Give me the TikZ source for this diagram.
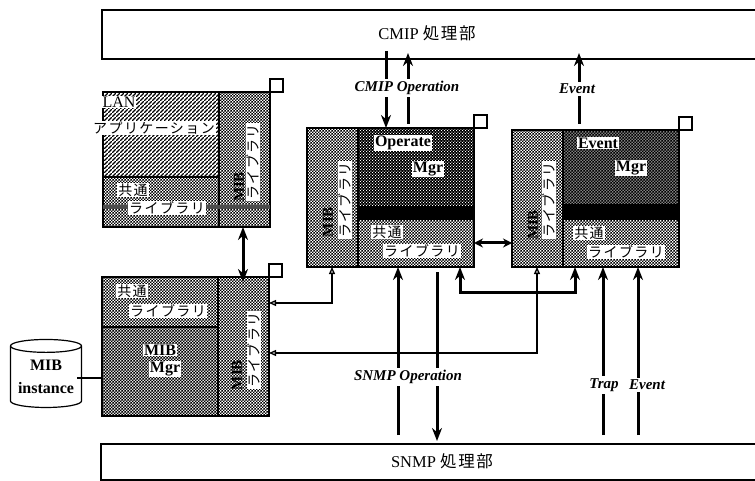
\documentclass[tikz,border=0pt]{standalone}
\usepackage{fontspec}
\setmainfont{Liberation Serif}
\newfontfamily\jpfont[LetterSpace=10]{Noto Sans CJK JP}
\usetikzlibrary{positioning,patterns,arrows.meta,shapes.geometric}

\pgfdeclarepatternformonly{checkdots}{\pgfqpoint{0pt}{0pt}}{\pgfqpoint{3.4pt}{3.4pt}}{\pgfqpoint{3.4pt}{3.4pt}}{%
  \pgfpathrectangle{\pgfqpoint{0pt}{0pt}}{\pgfqpoint{1.7pt}{1.7pt}}%
  \pgfpathrectangle{\pgfqpoint{1.7pt}{1.7pt}}{\pgfqpoint{1.7pt}{1.7pt}}%
  \pgfusepath{fill}}
\pgfdeclarepatternformonly{finedots}{\pgfqpoint{0pt}{0pt}}{\pgfqpoint{3.4pt}{3.4pt}}{\pgfqpoint{3.4pt}{3.4pt}}{%
  \pgfpathrectangle{\pgfqpoint{0pt}{0pt}}{\pgfqpoint{1pt}{1pt}}%
  \pgfpathrectangle{\pgfqpoint{1.7pt}{1.7pt}}{\pgfqpoint{1pt}{1pt}}%
  \pgfusepath{fill}}
\pgfdeclarepatternformonly{slashes}{\pgfqpoint{0pt}{0pt}}{\pgfqpoint{4pt}{4pt}}{\pgfqpoint{4pt}{4pt}}{%
  \pgfsetlinewidth{1.6pt}%
  \pgfpathmoveto{\pgfqpoint{-1pt}{-1pt}}%
  \pgfpathlineto{\pgfqpoint{5pt}{5pt}}%
  \pgfusepath{stroke}}

\newcommand{\jp}[1]{{\jpfont #1}}

\begin{document}
\begin{tikzpicture}[%
    x=1pt,
    y=-1pt,
    >={Stealth[length=13pt,width=10pt]},
    every node/.style={inner sep=0pt,outer sep=0pt},
    cell/.style={draw,line width=1.5pt},
    maincell/.style={cell,minimum width=116pt},
    colcell/.style={cell,minimum width=51pt},
    libfill/.style={pattern=checkdots,pattern color=black},
    mibfill/.style={preaction={fill=black!12},pattern=checkdots,pattern color=black},
    opfill/.style={preaction={fill=black},pattern=finedots,pattern color=white},
    evfill/.style={preaction={fill=black!50},pattern=checkdots,pattern color=black},
    lanfill/.style={pattern=slashes,pattern color=black},
    corner/.style={draw,line width=1.2pt,fill=white,minimum size=13pt},
    procbox/.style={draw,line width=1.2pt,minimum width=665pt,anchor=north west},
    bigtext/.style={font=\fontsize{16.5}{18}\selectfont},
    boldtext/.style={fill=white,inner sep=1pt,font=\fontsize{16}{18}\selectfont\bfseries},
    libtext/.style={fill=white,inner sep=1pt,font=\fontsize{14}{16}\selectfont},
    miblabel/.style={rotate=90,font=\fontsize{15}{17}\selectfont\bfseries},
    liblabel/.style={rotate=90,fill=white,inner sep=1pt,font=\fontsize{14}{16}\selectfont},
    linktext/.style={fill=white,inner ysep=2pt,inner xsep=0pt,font=\fontsize{15}{17}\selectfont\bfseries\itshape},
    bigarrow/.style={line width=3pt},
    thinarrow/.style={line width=1.3pt,-{Triangle[open,length=7pt,width=6pt,fill=white]}}
  ]
    \useasboundingbox (0,0) rectangle (755,481);

    % processing boxes
    \node[procbox,minimum height=49pt] (cmip) at (102,10) {};
    \node[procbox,minimum height=36pt] (snmp) at (101,444) {};
    \node[bigtext] (cmiptext) at (427,33) {CMIP \jp{処理部}};
    \node[bigtext] (snmptext) at (442,461) {SNMP \jp{処理部}};

    % LAN block
    \node[maincell,lanfill,minimum height=85pt,anchor=north west] (lanapp) at (103,92) {};
    \node[maincell,libfill,minimum height=50pt] (lanlib) [below=0pt of lanapp] {};
    \node[colcell,libfill,minimum height=135pt] (lanmib) [below right=0pt and 0pt of lanapp.north east] {};
    \node[corner] (lansq) [above right=0pt and 0pt of lanmib.north east] {};
    \node[fill=black!70,minimum width=167pt,minimum height=4pt] (lanband) [below right=28pt and 0pt of lanlib.north west] {};

    % MIB block
    \node[maincell,libfill,minimum height=50pt,anchor=north west] (miblib) at (102,277) {};
    \node[maincell,mibfill,minimum height=89pt] (mibmgr) [below=0pt of miblib] {};
    \node[colcell,libfill,minimum height=139pt] (mibcol) [below right=0pt and 0pt of miblib.north east] {};
    \node[corner] (mibsq) [above right=0pt and 0pt of mibcol.north east] {};

    % Operate block
    \node[colcell,libfill,minimum height=139pt,anchor=north west] (opcol) at (307,128) {};
    \node[maincell,opfill,minimum height=79pt] (opmgr) [below right=0pt and 0pt of opcol.north east] {};
    \node[maincell,fill=black,minimum height=12pt] (opband) [below=0pt of opmgr] {};
    \node[maincell,libfill,minimum height=48pt] (oplib) [below=0pt of opband] {};
    \node[corner] (opsq) [above right=0pt and 0pt of opmgr.north east] {};

    % Event block
    \node[colcell,libfill,minimum height=137pt,anchor=north west] (evcol) at (512,130) {};
    \node[maincell,evfill,minimum height=75pt] (evmgr) [below right=0pt and 0pt of evcol.north east] {};
    \node[maincell,fill=black,minimum height=14pt] (evband) [below=0pt of evmgr] {};
    \node[maincell,libfill,minimum height=48pt] (evlib) [below=0pt of evband] {};
    \node[corner] (evsq) [above right=0pt and 0pt of evmgr.north east] {};

    % database
    \node[cylinder,shape border rotate=90,aspect=0.23,draw,line width=1.2pt,minimum width=71pt,minimum height=68pt,
          align=center,font=\fontsize{16}{23}\selectfont\bfseries] (mibdb) at (46,377) {MIB\\instance};

    % columns the connectors run on
    \coordinate (cmipdown) at (386,0);
    \coordinate (cmipup) at (408,0);
    \coordinate (eventup) at (579,0);
    \coordinate (laneast) at (243,0);
    \coordinate (opin) at (398,0);
    \coordinate (opout) at (437,0);
    \coordinate (trapup) at (603,0);
    \coordinate (eventin) at (638,0);
    \coordinate (oplink) at (460,292);
    \coordinate (evlink) at (575,292);
    \coordinate (mibup) at (332,303);
    \coordinate (mibin) at (537,353);
    \coordinate (dbstub) at (77,378);
    \coordinate (lanrow) at (0,243);

    \draw[bigarrow,->,shorten <=-8pt] (cmip.south -| cmipdown) -- (opmgr.north -| cmipdown);
    \draw[bigarrow,->,shorten <=4pt,shorten >=-6pt] (opmgr.north -| cmipup) -- (cmip.south -| cmipup);
    \draw[bigarrow,->,shorten <=6pt,shorten >=-6pt] (evmgr.north -| eventup) -- (cmip.south -| eventup);
    \draw[bigarrow,<->,shorten >=-5pt] (lanmib.south -| laneast) -- (mibcol.north -| laneast);
    \draw[bigarrow,<->,>={Stealth[length=9pt,width=9pt]}] (oplib.east |- lanrow) -- (evcol.west |- lanrow);
    \draw[bigarrow,<->] (oplib.south -| oplink) -- (oplink) -- (evlink) -- (evlib.south -| evlink);
    \draw[bigarrow,->,shorten <=9pt] (snmp.north -| opin) -- (oplib.south -| opin);
    \draw[bigarrow,->,shorten <=5pt,shorten >=3pt] (oplib.south -| opout) -- (snmp.north -| opout);
    \draw[bigarrow,->,shorten <=9pt] (snmp.north -| trapup) -- (evlib.south -| trapup);
    \draw[bigarrow,->,shorten <=9pt] (snmp.north -| eventin) -- (evlib.south -| eventin);
    \draw[thinarrow,{Triangle[open,length=7pt,width=6pt,fill=white]}-{Triangle[open,length=7pt,width=6pt,fill=white]}] (opcol.south -| mibup) -- (mibup) -- (mibcol.east |- mibup);
    \draw[thinarrow,{Triangle[open,length=7pt,width=6pt,fill=white]}-{Triangle[open,length=7pt,width=6pt,fill=white]}] (evcol.south -| mibin) -- (mibin) -- (mibcol.east |- mibin);
    \draw[line width=1.2pt] (mibmgr.west |- dbstub) -- (dbstub);

    % texts inside the blocks
    \node[libtext,font=\fontsize{16}{18}\selectfont] (lantext) at ([shift={(16,10)}]lanapp.north west) {LAN};
    \node[libtext] (apptext) at ([shift={(51,36)}]lanapp.north west) {\jp{アプリケーション}};
    \node[libtext] (lancommon) at ([shift={(30,13)}]lanlib.north west) {\jp{共通}};
    \node[libtext] (lanlibtext) at ([shift={(64,31)}]lanlib.north west) {\jp{ライブラリ}};
    \node[miblabel] (lanmibtext) at ([shift={(20,95)}]lanmib.north west) {MIB};
    \node[liblabel] (lancoltext) at ([shift={(34,70)}]lanmib.north west) {\jp{ライブラリ}};

    \node[libtext] (mibcommon) at ([shift={(30,14)}]miblib.north west) {\jp{共通}};
    \node[libtext] (miblibtext) at ([shift={(66,34)}]miblib.north west) {\jp{ライブラリ}};
    \node[boldtext] (mibtext) at ([shift={(58,23)}]mibmgr.north west) {MIB};
    \node[boldtext] (mgrtext) at ([shift={(63,42)}]mibmgr.north west) {Mgr};
    \node[miblabel] (mibmibtext) at ([shift={(19,98)}]mibcol.north west) {MIB};
    \node[liblabel] (mibcoltext) at ([shift={(36,73)}]mibcol.north west) {\jp{ライブラリ}};

    \node[boldtext] (optext) at ([shift={(45,15)}]opmgr.north west) {Operate};
    \node[boldtext] (opmgrtext) at ([shift={(70,41)}]opmgr.north west) {Mgr};
    \node[libtext] (opcommon) at ([shift={(29,13)}]oplib.north west) {\jp{共通}};
    \node[libtext] (oplibtext) at ([shift={(64,32)}]oplib.north west) {\jp{ライブラリ}};
    \node[miblabel] (opmibtext) at ([shift={(21,94)}]opcol.north west) {MIB};
    \node[liblabel] (opcoltext) at ([shift={(38,72)}]opcol.north west) {\jp{ライブラリ}};

    \node[boldtext] (evtext) at ([shift={(35,13)}]evmgr.north west) {Event};
    \node[boldtext] (evmgrtext) at ([shift={(68,38)}]evmgr.north west) {Mgr};
    \node[libtext] (evcommon) at ([shift={(26,14)}]evlib.north west) {\jp{共通}};
    \node[libtext] (evlibtext) at ([shift={(63,33)}]evlib.north west) {\jp{ライブラリ}};
    \node[miblabel] (evmibtext) at ([shift={(21,95)}]evcol.north west) {MIB};
    \node[liblabel] (evcoltext) at ([shift={(37,70)}]evcol.north west) {\jp{ライブラリ}};

    % texts on the connectors
    \node[linktext] (cmiplink) at (407,88) {CMIP Operation};
    \node[linktext] (eventlink) at (577,89) {Event};
    \node[linktext] (snmplink) at (408,377) {SNMP Operation};
    \node[linktext] (traplink) at (604,385) {Trap};
    \node[linktext] (eventinlink) at (647,385) {Event};
  \end{tikzpicture}
\end{document}
